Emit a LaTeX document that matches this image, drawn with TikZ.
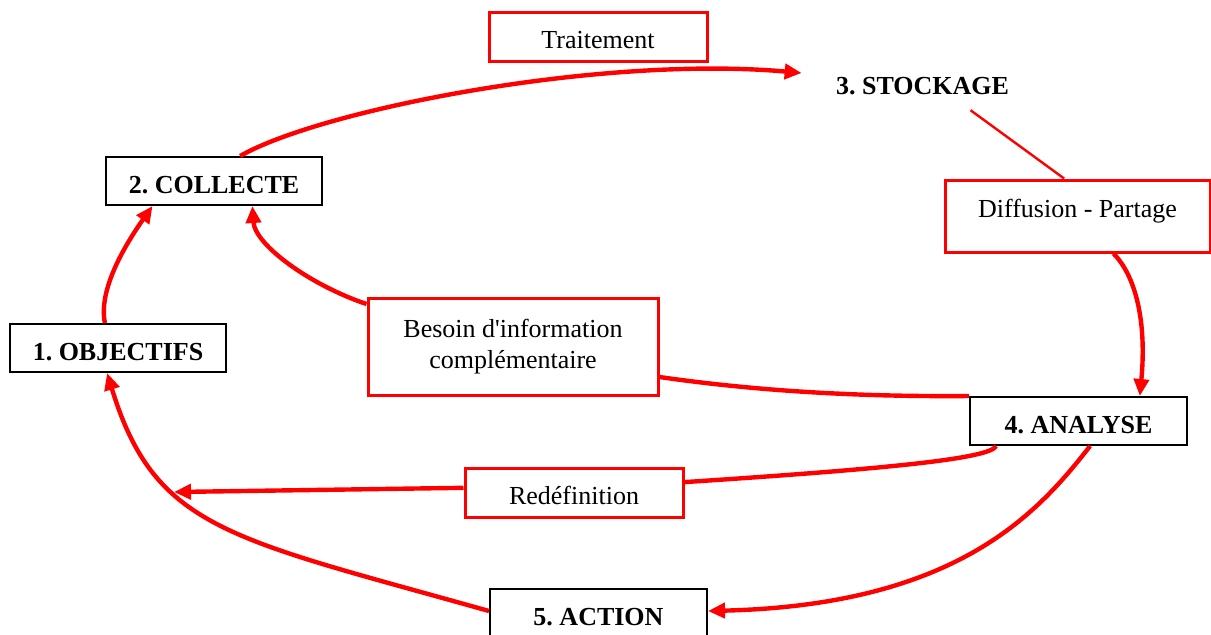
\documentclass[tikz,border=0pt]{standalone}
\usepackage{fontspec}
\setmainfont{Liberation Serif}
\usetikzlibrary{arrows.meta,calc}

\tikzset{
  redbox/.style={draw=red, line width=1.5pt, fill=white, inner sep=0pt,
    align=center, font=\fontsize{13}{15.5}\selectfont\frenchspacing},
  blackbox/.style={draw=black, line width=1pt, fill=white, inner sep=0pt,
    font=\fontsize{13}{15}\selectfont\bfseries\frenchspacing},
  lowtext/.style={text height=12pt, text depth=0pt},
  flow/.style={draw=red, line width=2.2pt},
  arr/.style={flow, -{Triangle[length=8.5pt,width=7.5pt]}},
  thin link/.style={draw=red, line width=1.2pt}
}

\begin{document}
\begin{tikzpicture}[x=0.5pt,y=-0.5pt]
  % page frame
  \fill[white] (0,0) rectangle (1211,634);
  \useasboundingbox (0,0) rectangle (1211,634);

  % stages and transitions
  \node[redbox, lowtext, minimum width=109pt, minimum height=24.5pt] (trait) at (598,36.5) {Traitement};
  \node[inner sep=0pt, font=\fontsize{13}{15}\selectfont\bfseries\frenchspacing] (stock) at (922.5,86) {3. STOCKAGE};
  \node[blackbox, lowtext, minimum width=108pt, minimum height=24pt] (collecte) at (214,181) {2. COLLECTE};
  \node[redbox, minimum width=132.5pt, minimum height=36pt, text height=9pt, text depth=8pt] (diff) at (1077.5,216) {Diffusion - Partage};
  \node[blackbox, lowtext, minimum width=108pt, minimum height=24pt] (obj) at (118,348) {1. OBJECTIFS};
  \node[redbox, minimum width=145pt, minimum height=48.5pt] (besoin) at (513,347) {Besoin d\textquotesingle information\\complémentaire};
  \node[blackbox, lowtext, minimum width=108.5pt, minimum height=24pt] (analyse) at (1078.5,421) {4. ANALYSE};
  \node[redbox, lowtext, minimum width=109pt, minimum height=24.5pt] (redef) at (574,492.5) {Redéfinition};
  \node[blackbox, lowtext, minimum width=108.5pt, minimum height=24pt] (action) at (598.5,613) {5. ACTION};
  \coordinate (redefend) at (174,492);

  % 2 -> 3
  \draw[arr] ($(collecte.north west)!0.62!(collecte.north east)$)
    .. controls (320,110) and (600,55) .. ($(stock.west)+(-34,-13)$);
  % 3 -- diffusion
  \draw[thin link] ($(stock.south)+(48,15)$) -- ($(diff.north west)!0.45!(diff.north east)$);
  % diffusion -> 4
  \draw[arr] ($(diff.south west)!0.634!(diff.south east)$)
    .. controls (1135,275) and (1147,320) .. ($(analyse.north west)!0.78!(analyse.north east)$);
  % 4 -- besoin
  \draw[flow] ($(besoin.north east)!0.8!(besoin.south east)$)
    .. controls (750,390) and (850,397) .. (analyse.north west);
  % besoin -> 2
  \draw[arr] ($(besoin.north west)!0.07!(besoin.south west)$)
    .. controls (310,285) and (255,245) .. ($(collecte.south west)!0.676!(collecte.south east)$);
  % 1 -> 2
  \draw[arr] ($(obj.north west)!0.44!(obj.north east)$)
    .. controls (98,290) and (125,245) .. ($(collecte.south west)!0.218!(collecte.south east)$);
  % 4 -- redefinition
  \draw[flow] ($(analyse.south west)!0.124!(analyse.south east)$)
    .. controls (990,458) and (900,468) .. ($(redef.north east)!0.3!(redef.south east)$);
  % redefinition -> loop back
  \draw[arr] ($(redef.north west)!0.41!(redef.south west)$) -- (redefend);
  % 4 -> 5
  \draw[arr] ($(analyse.south west)!0.553!(analyse.south east)$)
    .. controls (1040,510) and (960,605) .. ($(action.east)+(0,-2)$);
  % 5 -> 1
  \draw[arr] ($(action.west)+(0,-2)$)
    .. controls (230,538) and (155,530) .. ($(obj.south west)!0.45!(obj.south east)$);
\end{tikzpicture}
\end{document}
